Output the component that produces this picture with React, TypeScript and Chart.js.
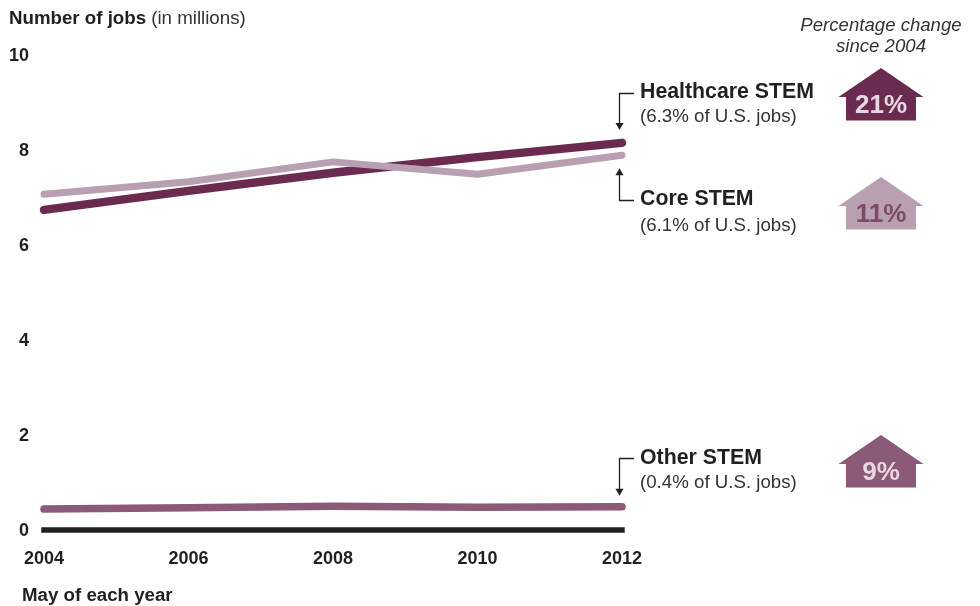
import { useEffect, useRef } from "react";
import { Chart, registerables } from "chart.js";

Chart.register(...registerables);

const years = ["2004", "2005", "2006", "2007", "2008", "2009", "2010", "2011", "2012"];
const labeledYears = ["2004", "2006", "2008", "2010", "2012"];
const healthcareStem = [6.74, null, 7.14, null, 7.52, null, 7.85, null, 8.15];
const coreStem = [7.07, null, 7.33, null, 7.75, null, 7.49, null, 7.89];
const otherStem = [0.44, null, 0.47, null, 0.5, null, 0.48, null, 0.49];
const baseline = [0, null, 0, null, 0, null, 0, null, 0];

const yTicks = [0, 2, 4, 6, 8, 10];

const INK = "#231f20";
const FAMILY = '"Liberation Sans", Arial, sans-serif';
const HEALTHCARE = "#6b2a50";
const CORE = "#b89fb2";
const OTHER = "#8a5a78";
const PALE = "#e6d8e1";

type Callout = {
  name: string;
  share: string;
  change: string;
  fill: string;
  changeColor: string;
  nameY: number;
  shareY: number;
  elbowY: number;
  tipValue: number;
  tipOffset: number;
  roofY: number;
};

const callouts: Callout[] = [
  { name: "Healthcare STEM", share: "(6.3% of U.S. jobs)", change: "21%", fill: HEALTHCARE, changeColor: PALE, nameY: 98, shareY: 122, elbowY: 93.5, tipValue: 8.15, tipOffset: -13, roofY: 68 },
  { name: "Core STEM", share: "(6.1% of U.S. jobs)", change: "11%", fill: CORE, changeColor: "#7d4a6c", nameY: 205, shareY: 231, elbowY: 200.5, tipValue: 7.89, tipOffset: 13, roofY: 177 },
  { name: "Other STEM", share: "(0.4% of U.S. jobs)", change: "9%", fill: OTHER, changeColor: PALE, nameY: 464, shareY: 488, elbowY: 458.5, tipValue: 0.49, tipOffset: -11, roofY: 435 },
];

// Draws the header text, the series callouts and the arrow-shaped change badges.
const annotations = {
  id: "annotations",
  afterDatasetsDraw(chart: any) {
    const { ctx } = chart;
    const yScale = chart.scales.y;
    ctx.save();
    ctx.fillStyle = INK;
    ctx.textBaseline = "alphabetic";
    ctx.textAlign = "left";

    ctx.font = `bold 18.7px ${FAMILY}`;
    ctx.fillText("Number of jobs", 9, 24);
    const lead = ctx.measureText("Number of jobs ").width;
    ctx.font = `18.7px ${FAMILY}`;
    ctx.fillStyle = "#333";
    ctx.fillText("(in millions)", 9 + lead, 24);

    ctx.fillStyle = INK;
    ctx.font = `bold 18.7px ${FAMILY}`;
    ctx.fillText("May of each year", 22, 601);

    ctx.textAlign = "center";
    ctx.fillStyle = "#333";
    ctx.font = `italic 18.6px ${FAMILY}`;
    ctx.fillText("Percentage change", 881, 31);
    ctx.fillText("since 2004", 881, 52);

    for (const c of callouts) {
      ctx.textAlign = "left";
      ctx.fillStyle = INK;
      ctx.font = `bold 21.3px ${FAMILY}`;
      ctx.fillText(c.name, 640, c.nameY);
      ctx.font = `18.7px ${FAMILY}`;
      ctx.fillStyle = "#333";
      ctx.fillText(c.share, 640, c.shareY);

      // Leader line with an arrowhead pointing at the end of the series
      const tipY = yScale.getPixelForValue(c.tipValue) + c.tipOffset;
      const dir = tipY > c.elbowY ? 1 : -1;
      const x = 619.5;
      ctx.strokeStyle = INK;
      ctx.lineWidth = 1.3;
      ctx.beginPath();
      ctx.moveTo(634, c.elbowY);
      ctx.lineTo(x, c.elbowY);
      ctx.lineTo(x, tipY - dir * 5);
      ctx.stroke();
      ctx.fillStyle = INK;
      ctx.beginPath();
      ctx.moveTo(x, tipY);
      ctx.lineTo(x - 4, tipY - dir * 7);
      ctx.lineTo(x + 4, tipY - dir * 7);
      ctx.closePath();
      ctx.fill();

      // Upward arrow badge
      const eave = c.roofY + 29;
      const floor = c.roofY + 52.5;
      ctx.fillStyle = c.fill;
      ctx.beginPath();
      ctx.moveTo(881, c.roofY);
      ctx.lineTo(923.5, eave);
      ctx.lineTo(916, eave);
      ctx.lineTo(916, floor);
      ctx.lineTo(846, floor);
      ctx.lineTo(846, eave);
      ctx.lineTo(838.5, eave);
      ctx.closePath();
      ctx.fill();

      ctx.textAlign = "center";
      ctx.fillStyle = c.changeColor;
      ctx.font = `bold 26px ${FAMILY}`;
      ctx.fillText(c.change, 881, c.roofY + 44.5);
    }
    ctx.restore();
  },
};

export default function App() {
  const canvasRef = useRef<HTMLCanvasElement>(null);

  useEffect(() => {
    document.body.style.margin = "0";
    const line = (label: string, data: (number | null)[], color: string, width: number, cap: "round" | "square") => ({
      label,
      data,
      borderColor: color,
      backgroundColor: color,
      borderWidth: width,
      borderCapStyle: cap,
      borderJoinStyle: "round" as const,
      pointRadius: 0,
      tension: 0,
      spanGaps: true,
      clip: false as const,
    });

    const chart = new Chart(canvasRef.current!, {
      type: "line",
      data: {
        labels: years,
        datasets: [
          line("Axis", baseline, INK, 5.5, "square"),
          line("Other STEM", otherStem, OTHER, 7.5, "round"),
          line("Core STEM", coreStem, CORE, 7, "round"),
          line("Healthcare STEM", healthcareStem, HEALTHCARE, 8.5, "round"),
        ],
      },
      options: {
        responsive: false,
        animation: false,
        layout: { padding: { left: 0, right: 358, top: 55, bottom: 0 } },
        plugins: { legend: { display: false }, title: { display: false }, tooltip: { enabled: false } },
        scales: {
          x: {
            offset: false,
            grid: { display: false, drawTicks: false },
            border: { display: false },
            afterFit(scale: any) {
              scale.height = 76;
            },
            ticks: {
              autoSkip: false,
              maxRotation: 0,
              padding: 18,
              color: INK,
              font: { family: FAMILY, weight: "bold", size: 18 },
              callback(_v: any, i: number) {
                return labeledYears.includes(years[i]) ? years[i] : "";
              },
            },
          },
          y: {
            min: 0,
            max: 10,
            grid: { display: false, drawTicks: false },
            border: { display: false },
            afterFit(scale: any) {
              scale.width = 44;
            },
            afterBuildTicks(scale: any) {
              scale.ticks = yTicks.map((value) => ({ value }));
            },
            ticks: {
              padding: 15,
              labelOffset: 1,
              color: INK,
              font: { family: FAMILY, weight: "bold", size: 18 },
            },
          },
        },
      },
      plugins: [annotations],
    } as any);
    return () => chart.destroy();
  }, []);

  return <canvas ref={canvasRef} width={980} height={606} style={{ display: "block" }} />;
}
